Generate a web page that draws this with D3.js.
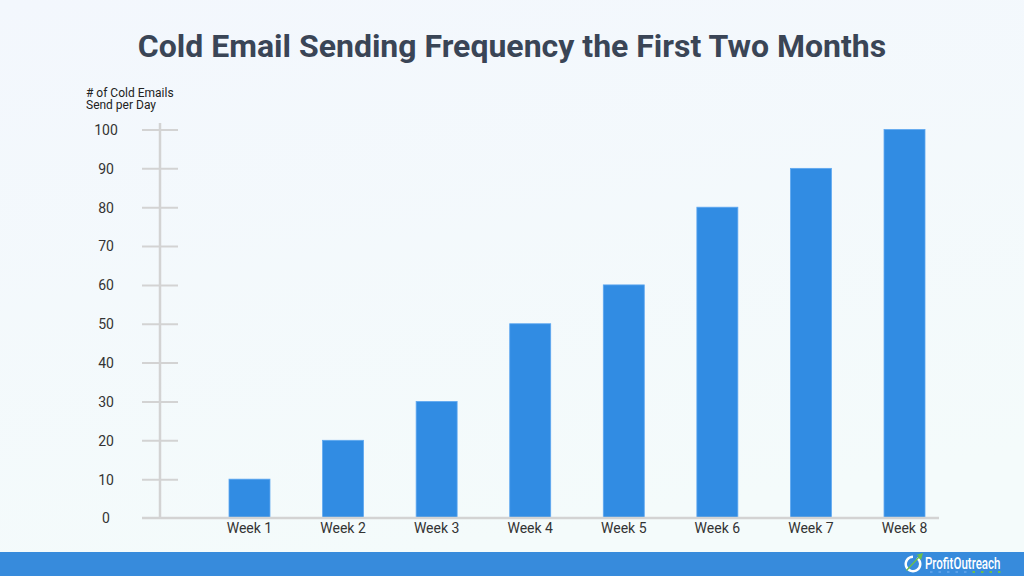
<!DOCTYPE html>
<html><head><meta charset="utf-8">
<script src="https://cdn.jsdelivr.net/npm/d3@7"></script>
<style>html,body{margin:0;padding:0;overflow:hidden;background:#f4f9fc}</style>
</head><body>
<svg id="c" width="1024" height="576"></svg>
<script>
const categories = ["Week 1","Week 2","Week 3","Week 4","Week 5","Week 6","Week 7","Week 8"];
const values = [10,20,30,50,60,80,90,100];
const yTicks = [0,10,20,30,40,50,60,70,80,90,100];
const title = "Cold Email Sending Frequency the First Two Months";
const yLabel = ["# of Cold Emails","Send per Day"];

const svg = d3.select("#c");
const defs = svg.append("defs");
const g = defs.append("linearGradient").attr("id","bg").attr("x1","0").attr("y1","0").attr("x2","0.3").attr("y2","1");
g.append("stop").attr("offset","0").attr("stop-color","#f3f7fd");
g.append("stop").attr("offset","1").attr("stop-color","#f4fbfb");
svg.append("rect").attr("width",1024).attr("height",576).attr("fill","url(#bg)");

const x = d3.scaleBand().domain(categories).range([202.7,951.3]).paddingInner(0.562).paddingOuter(0.281);
const y = d3.scaleLinear().domain([0,100]).range([518,129.5]);

// title
svg.append("text").attr("x",512).attr("y",57).attr("text-anchor","middle")
  .attr("font-family","Roboto").attr("font-weight","bold").attr("font-size",32)
  .attr("fill","#3a4556").text(title);

// y label
svg.selectAll(".yl").data(yLabel).enter().append("text")
  .attr("x",86).attr("y",(d,i)=>97+i*12).attr("font-family","Roboto").attr("font-size",12)
  .attr("fill","#222").text(d=>d);

// axis line
svg.append("line").attr("x1",160).attr("x2",160).attr("y1",123).attr("y2",518)
  .attr("stroke","#d3d3d3").attr("stroke-width",2.5);

// ticks via axis
const yAxis = d3.axisLeft(y).tickValues(yTicks).tickSize(0).tickPadding(0);
const ag = svg.append("g").call(yAxis);
ag.select(".domain").remove();
ag.selectAll(".tick text").attr("x",106).attr("text-anchor","middle")
  .attr("font-family","Roboto").attr("font-size",14).attr("fill","#333").attr("dy","0.35em");
ag.selectAll(".tick").filter(d=>d>0).append("line").attr("x1",142).attr("x2",178)
  .attr("stroke","#d3d3d3").attr("stroke-width",2);

// bars
svg.selectAll(".bar").data(values).enter().append("rect")
  .attr("x",(d,i)=>x(categories[i])).attr("width",x.bandwidth())
  .attr("y",d=>y(d)).attr("height",d=>y(0)-y(d))
  .attr("fill","#318ce3").attr("stroke","#5fa8f0").attr("stroke-width",0.8);

// baseline
svg.append("line").attr("x1",142).attr("x2",939).attr("y1",518).attr("y2",518)
  .attr("stroke","#d3d3d3").attr("stroke-width",2.5);

// x labels
const xAxis = d3.axisBottom(x).tickSize(0).tickPadding(0);
const xg = svg.append("g").attr("transform","translate(0,518)").call(xAxis);
xg.select(".domain").remove();
xg.selectAll(".tick text").attr("y",15).attr("dy","0").attr("font-family","Roboto").attr("font-size",14).attr("fill","#333");

// footer band
svg.append("rect").attr("x",0).attr("y",552).attr("width",1024).attr("height",24).attr("fill","#378bdc");
// logo
const lg = svg.append("g");
lg.append("path").attr("d",d3.arc()({innerRadius:6,outerRadius:8.5,startAngle:0.6,endAngle:2*Math.PI}))
  .attr("transform","translate(913,564)").attr("fill","#ffffff");
lg.append("path").attr("d","M906,570 L919,556 L916,555 L923,553 L921,560 L919,558 L907,571 Z").attr("fill","#6cc04a");
lg.append("g").attr("transform","translate(925,569) scale(0.68,1)")
  .append("text").attr("x",0).attr("y",0).attr("font-family","Roboto").attr("font-weight","500")
  .attr("font-size",17).attr("fill","#fff").text("ProfitOutreach");
for(let i=0;i<9;i++){
  lg.append("rect").attr("x",930+i*8.5).attr("y",571).attr("width",2.5).attr("height",2).attr("fill", i>4?"#6cc04a":"#5aa0e8");
}
</script>
</body></html>
